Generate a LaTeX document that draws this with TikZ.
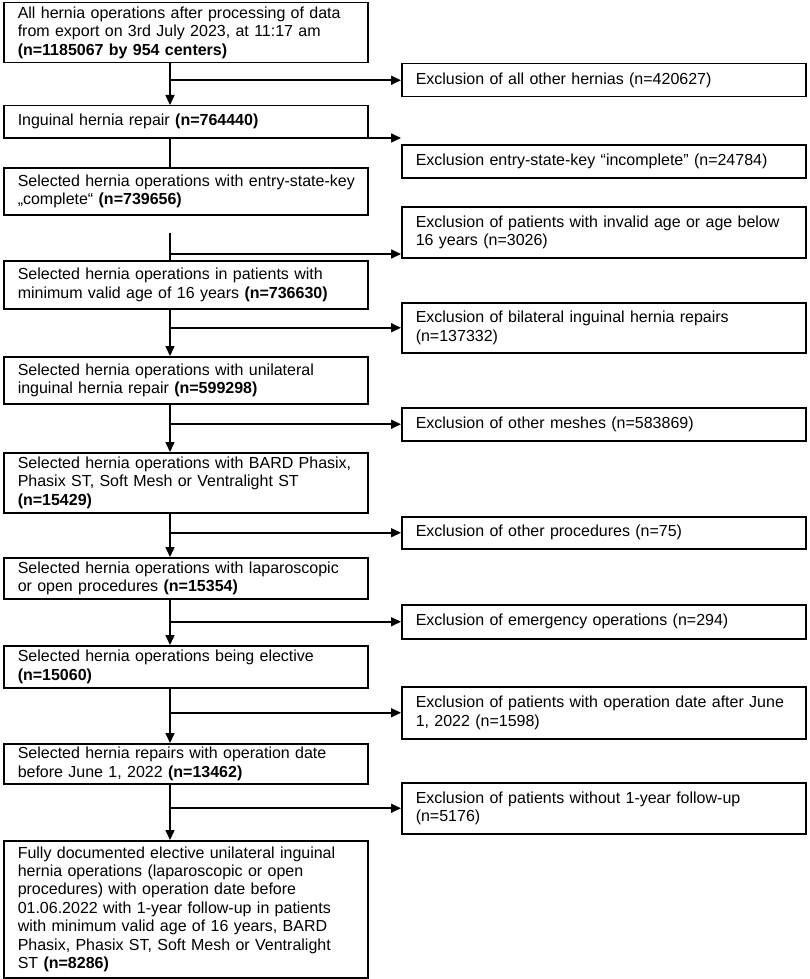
\documentclass[tikz,border=0pt]{standalone}
\usepackage{fontspec}
\setmainfont{Liberation Sans}
\usetikzlibrary{arrows.meta,calc}
\exhyphenpenalty=10000
\hyphenpenalty=10000
\begin{document}
\begin{tikzpicture}[x=1pt,y=-1pt,
  boxbase/.style={draw, line width=1.5pt, rectangle, anchor=north west, inner xsep=14pt, inner ysep=0pt,
    align=left, font=\fontsize{16}{18.4}\selectfont},
  mainbox/.style={boxbase, text width=336pt},
  exbox/.style={boxbase, text width=376pt},
  conn/.style={line width=1.6pt},
  arr/.style={conn, -{Triangle[length=10pt,width=9pt]}}]
\useasboundingbox (0,0) rectangle (809,979);
\coordinate (spine) at (170,0);
% main column
\node[mainbox, minimum height=60pt]  (b1)  at (3,2)   {All hernia operations after processing of data\\from export on 3rd July 2023, at 11:17 am\\\textbf{(n=1185067 by 954 centers)}};
\node[mainbox, minimum height=32pt]  (b2)  at (3,105) {Inguinal hernia repair \textbf{(n=764440)}};
\node[mainbox, minimum height=47pt]  (b3)  at (3,167) {\mbox{Selected hernia operations with entry-state-key}\\„complete“ \textbf{(n=739656)}};
\node[mainbox, minimum height=48pt]  (b4)  at (3,260) {Selected hernia operations in patients with\\minimum valid age of 16 years \textbf{(n=736630)}};
\node[mainbox, minimum height=47pt]  (b5)  at (3,356) {Selected hernia operations with unilateral\\inguinal hernia repair \textbf{(n=599298)}};
\node[mainbox, minimum height=60pt]  (b6)  at (3,452) {Selected hernia operations with BARD Phasix,\\Phasix ST, Soft Mesh or Ventralight ST\\\textbf{(n=15429)}};
\node[mainbox, minimum height=41pt]  (b7)  at (3,557) {\mbox{Selected hernia operations with laparoscopic}\\or open procedures \textbf{(n=15354)}};
\node[mainbox, minimum height=42pt]  (b8)  at (3,645) {Selected hernia operations being elective\\\textbf{(n=15060)}};
\node[mainbox, minimum height=40pt]  (b9)  at (3,743) {Selected hernia repairs with operation date\\before June 1, 2022 \textbf{(n=13462)}};
\node[mainbox, minimum height=137pt] (b10) at (3,840) {Fully documented elective unilateral inguinal\\hernia operations (laparoscopic or open\\procedures) with operation date before\\01.06.2022 with 1-year follow-up in patients\\with minimum valid age of 16 years, BARD\\Phasix, Phasix ST, Soft Mesh or Ventralight\\ST \textbf{(n=8286)}};
% exclusion column
\node[exbox, minimum height=33pt] (e1) at (401,63)  {Exclusion of all other hernias (n=420627)};
\node[exbox, minimum height=33pt] (e2) at (401,144) {Exclusion entry-state-key “incomplete” (n=24784)};
\node[exbox, minimum height=51pt] (e3) at (401,206) {Exclusion of patients with invalid age or age below\\16 years (n=3026)};
\node[exbox, minimum height=50pt] (e4) at (401,302) {Exclusion of bilateral inguinal hernia repairs\\(n=137332)};
\node[exbox, minimum height=33pt] (e5) at (401,407) {Exclusion of other meshes (n=583869)};
\node[exbox, minimum height=32pt] (e6) at (401,516) {Exclusion of other procedures (n=75)};
\node[exbox, minimum height=34pt] (e7) at (401,604) {Exclusion of emergency operations (n=294)};
\node[exbox, minimum height=52pt] (e8) at (401,686) {Exclusion of patients with operation date after June\\1, 2022 (n=1598)};
\node[exbox, minimum height=51pt] (e9) at (401,782) {Exclusion of patients without 1-year follow-up\\(n=5176)};
% free ends
\coordinate (t2) at (401,138);
\coordinate (t3) at (401,254);
\coordinate (g3) at (170,233);
% vertical connectors
\draw[arr]  (spine |- b1.south) -- (spine |- b2.north);
\draw[conn] (spine |- b2.south) -- (spine |- b3.north);
\draw[conn] (g3) -- (spine |- b4.north);
\draw[arr]  (spine |- b4.south) -- (spine |- b5.north);
\draw[arr]  (spine |- b5.south) -- (spine |- b6.north);
\draw[arr]  (spine |- b6.south) -- (spine |- b7.north);
\draw[arr]  (spine |- b7.south) -- (spine |- b8.north);
\draw[arr]  (spine |- b8.south) -- (spine |- b9.north);
\draw[arr]  (spine |- b9.south) -- (spine |- b10.north);
% branches
\draw[arr] (spine |- e1.west) -- (e1.west);
\draw[arr] (spine |- t2) -- (t2);
\draw[arr] (spine |- t3) -- (t3);
\draw[arr] (spine |- e4.west) -- (e4.west);
\draw[arr] (spine |- e5.west) -- (e5.west);
\draw[arr] (spine |- e6.west) -- (e6.west);
\draw[arr] (spine |- e7.west) -- (e7.west);
\draw[arr] (spine |- e8.west) -- (e8.west);
\draw[arr] (spine |- e9.west) -- (e9.west);
\end{tikzpicture}
\end{document}
